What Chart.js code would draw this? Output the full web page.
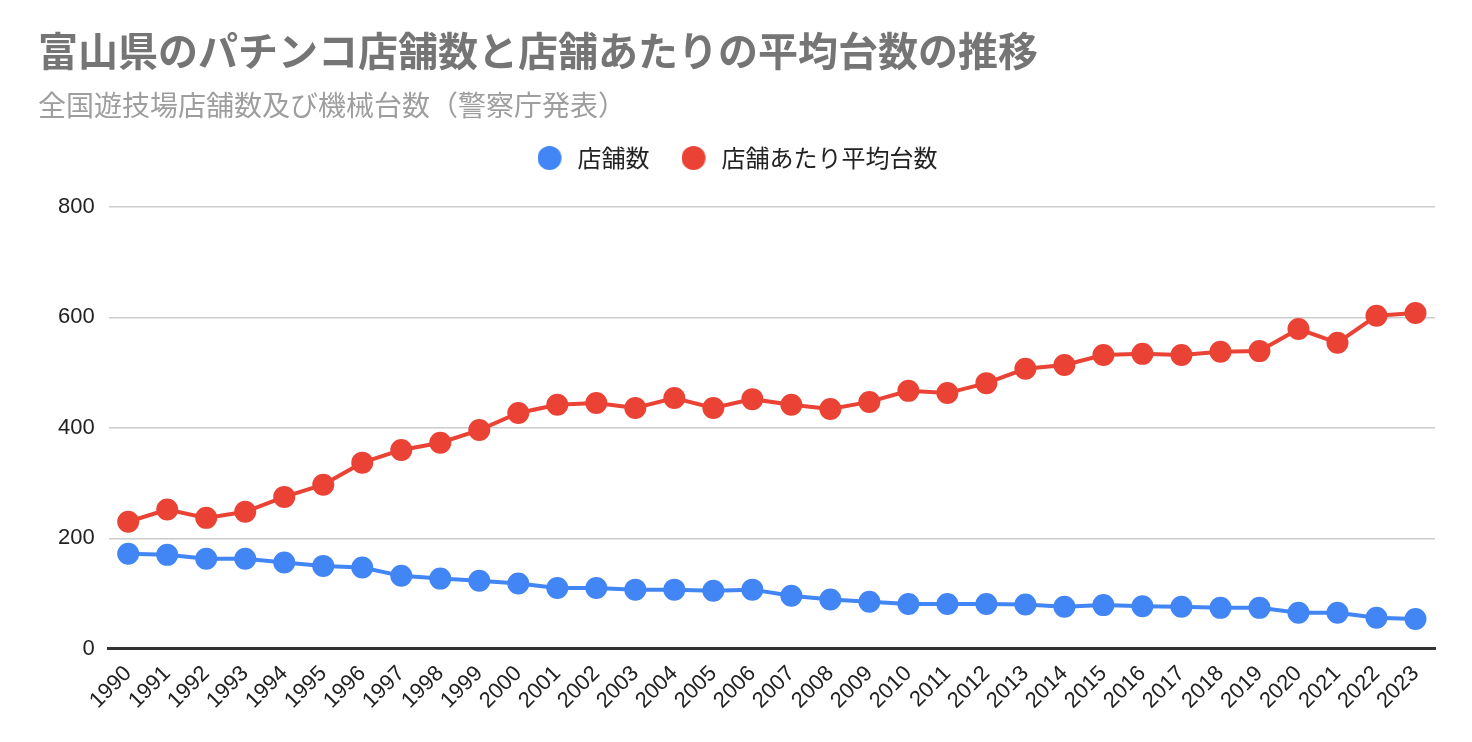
<!DOCTYPE html>
<html>
<head>
<meta charset="utf-8">
<script src="https://cdn.jsdelivr.net/npm/chart.js@4"></script>
<style>
  html, body { margin: 0; padding: 0; background: #fff; }
  #wrap { width: 1472px; height: 742px; position: relative; }
  .title, .subtitle {
    position: absolute; left: 38px; white-space: nowrap;
    font-family: 'Noto Sans CJK JP', 'Noto Sans', sans-serif;
  }
  .title { top: 25px; font-size: 40px; line-height: 48px; font-weight: bold; color: #757575; }
  .subtitle { top: 87px; font-size: 28px; line-height: 34px; color: #9e9e9e; }
</style>
</head>
<body>
<div id="wrap">
  <canvas id="chart"></canvas>
  <div class="title">富山県のパチンコ店舗数と店舗あたりの平均台数の推移</div>
  <div class="subtitle">全国遊技場店舗数及び機械台数（警察庁発表）</div>
</div>
<script>
// Years on the x axis
const years = ['1990','1991','1992','1993','1994','1995','1996','1997','1998','1999',
  '2000','2001','2002','2003','2004','2005','2006','2007','2008','2009',
  '2010','2011','2012','2013','2014','2015','2016','2017','2018','2019',
  '2020','2021','2022','2023'];

// 店舗数
const storeCounts = [172, 170, 163, 163, 156, 150, 147, 132, 127, 123,
  118, 110, 110, 107, 107, 105, 107, 96, 89, 85,
  81, 81, 81, 80, 76, 79, 77, 76, 74, 74,
  65, 65, 56, 54];

// 店舗あたり平均台数
const avgMachines = [230, 252, 237, 248, 275, 297, 337, 360, 373, 396,
  427, 442, 445, 436, 454, 436, 452, 442, 434, 447,
  467, 463, 481, 507, 514, 532, 534, 532, 538, 539,
  579, 554, 603, 608];

const yTicks = [0, 200, 400, 600, 800];

const seriesColors = ['#4285F4', '#EA4335'];

const cjkFont = "'Noto Sans CJK JP', 'Noto Sans', sans-serif";
const tickFont = "'Liberation Sans', Arial, sans-serif";

// Legend dot: 24px circle with some empty room on the right for the text gap
function makeLegendDot(color) {
    const c = document.createElement('canvas');
    c.width = 32;
    c.height = 24;
    const g = c.getContext('2d');
    g.fillStyle = color;
    g.beginPath();
    g.arc(12, 12, 12, 0, Math.PI * 2);
    g.fill();
    return c;
}
const legendDots = seriesColors.map(makeLegendDot);

// Extra room between legend and plot area
const legendMargin = {
    id: 'legendMargin',
    beforeInit(chart) {
        const fit = chart.legend.fit;
        chart.legend.fit = function() {
            fit.bind(chart.legend)();
            this.height += 27;
        };
    }
};

const ctx = document.getElementById('chart').getContext('2d');
new Chart(ctx, {
    type: 'line',
    data: {
        labels: years,
        datasets: [{
            label: '店舗数',
            data: storeCounts,
            borderColor: seriesColors[0],
            backgroundColor: seriesColors[0],
            borderWidth: 4,
            pointRadius: 9,
            pointHoverRadius: 9,
            tension: 0
        }, {
            label: '店舗あたり平均台数',
            data: avgMachines,
            borderColor: seriesColors[1],
            backgroundColor: seriesColors[1],
            borderWidth: 4,
            pointRadius: 9,
            pointHoverRadius: 9,
            tension: 0
        }]
    },
    options: {
        responsive: true,
        maintainAspectRatio: false,
        animation: false,
        layout: { padding: { left: 44, right: 37, top: 110, bottom: 16 } },
        plugins: {
            legend: {
                position: 'top',
                labels: {
                    usePointStyle: true,
                    boxWidth: 24,
                    boxHeight: 24,
                    padding: 36,
                    color: '#222',
                    font: { family: cjkFont, size: 24 },
                    generateLabels: chart =>
                        Chart.defaults.plugins.legend.labels.generateLabels(chart)
                            .map((item, i) => ({ ...item, pointStyle: legendDots[i] }))
                }
            },
            tooltip: { enabled: false }
        },
        scales: {
            x: {
                offset: true,
                grid: { display: false, drawTicks: false },
                border: { color: '#333', width: 3 },
                ticks: {
                    color: '#222',
                    maxRotation: 45,
                    minRotation: 45,
                    autoSkip: false,
                    padding: 12,
                    font: { family: tickFont, size: 22 }
                }
            },
            y: {
                min: 0,
                max: 800,
                afterBuildTicks: axis => { axis.ticks = yTicks.map(v => ({ value: v })); },
                grid: { color: '#cccccc', lineWidth: 1.5, drawTicks: false },
                border: { display: false },
                ticks: {
                    color: '#222',
                    padding: 14,
                    font: { family: tickFont, size: 22 }
                }
            }
        }
    },
    plugins: [legendMargin]
});
</script>
</body>
</html>
